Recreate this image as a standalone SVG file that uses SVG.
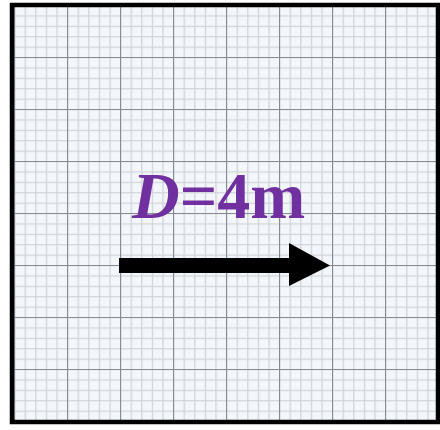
<svg xmlns="http://www.w3.org/2000/svg" width="440" height="430" viewBox="0 0 440 430">
<defs>
<pattern id="minor" patternUnits="userSpaceOnUse" x="14" y="5" width="10.6" height="10.4">
<path d="M0.5 0V10.4M0 0.5H10.6" stroke="#cfd3d8" stroke-width="1.5" fill="none"/>
</pattern>
<pattern id="major" patternUnits="userSpaceOnUse" x="14" y="5" width="53" height="52">
<path d="M0 0V52M0 0H53" stroke="#868c93" stroke-width="2.2" fill="none"/>
</pattern>
<style>
.lbl{font-family:"Liberation Serif","Times New Roman",serif;font-weight:bold;font-size:66px;fill:#7030a0}
</style>
</defs>
<rect width="440" height="430" fill="#ffffff"/>
<g id="grid">
<rect x="12" y="5" width="426" height="417" fill="#f3f7fb"/>
<rect x="12" y="5" width="426" height="417" fill="url(#minor)"/>
<rect x="12" y="5" width="426" height="417" fill="url(#major)"/>
<rect x="12" y="5" width="426" height="417" fill="none" stroke="#000" stroke-width="4.5"/>
</g>
<g id="connectors">
<path d="M119 258H289V243L330 265.5L289 286V273H119Z" fill="#000"/>
</g>
<g id="label">
<text class="lbl" x="132" y="218"><tspan font-style="italic">D</tspan>=4m</text>
</g>
</svg>
